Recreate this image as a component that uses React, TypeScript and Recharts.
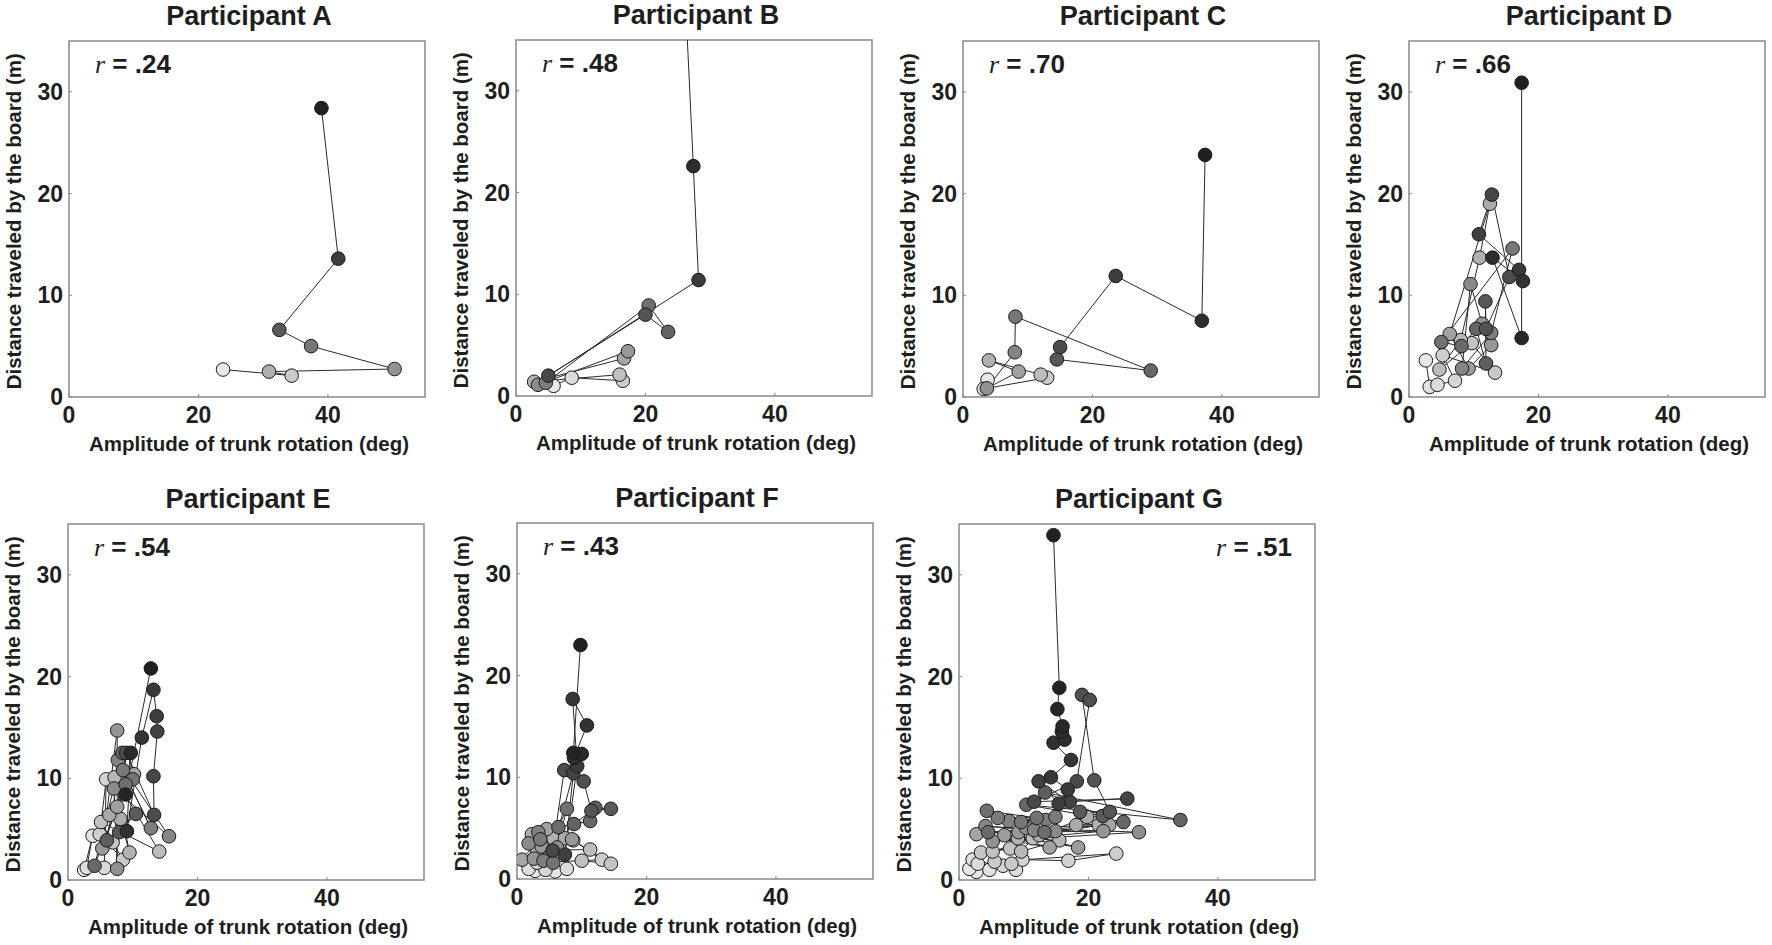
import { ScatterChart, Scatter, XAxis, YAxis, ReferenceArea } from "recharts";

// values, in trial order (light -> dark)
const aAmplitude = [23.8, 34.4, 30.9, 50.3, 37.4, 32.5, 41.6, 39.0];
const aDistance = [2.7, 2.1, 2.5, 2.75, 5.0, 6.6, 13.6, 28.4];

const bAmplitude = [5.8, 8.6, 16.5, 16.0, 2.8, 16.7, 17.3, 3.4, 4.6, 20.5, 23.5, 20.0, 5.0, 28.2, 27.4, 26.1];
const bDistance = [1.0, 1.8, 1.5, 2.1, 1.4, 3.7, 4.4, 1.1, 1.3, 8.9, 6.3, 8.0, 2.0, 11.4, 22.6, 40];

const cAmplitude = [3.8, 3.2, 13.0, 12.0, 4.0, 8.6, 3.7, 8.0, 8.1, 29.0, 14.5, 15.0, 23.6, 36.9, 37.4];
const cDistance = [1.7, 0.8, 1.9, 2.2, 3.6, 2.5, 0.85, 4.4, 7.9, 2.6, 3.7, 4.9, 11.9, 7.5, 23.8];

const dAmplitude = [
  2.6, 3.2, 4.4, 7.1, 5.2, 13.3, 9.7, 4.7, 8.0, 10.9, 12.5, 6.3, 9.2, 12.7, 11.3, 9.5, 8.2,
  12.7, 16.0, 5.0, 8.1, 10.4, 11.9, 11.8, 11.9, 15.5, 12.8, 10.8, 17.0, 17.6, 12.9, 17.4, 17.4,
];
const dDistance = [
  3.6, 1.0, 1.2, 1.6, 4.1, 2.4, 5.3, 2.7, 5.6, 13.7, 19.0, 6.2, 2.8, 5.1, 7.2, 11.1, 2.8,
  6.3, 14.6, 5.4, 5.0, 6.7, 3.3, 9.4, 6.7, 11.8, 19.9, 16.0, 12.5, 11.4, 13.7, 5.8, 30.9,
];

const eAmplitude = [
  2.5, 3.8, 2.9, 5.6, 5.9, 4.9, 8.5, 6.9, 5.1, 14.1, 7.2, 9.5, 8.1, 6.4, 10.2, 7.6, 5.3, 7.6, 7.6, 7.1, 15.6,
  7.7, 12.8, 8.5, 10.0, 8.9, 4.1, 8.4, 6.0, 10.5, 7.9, 9.0, 13.3, 13.2, 13.8, 13.7, 13.2, 11.4, 9.1, 9.7, 8.9, 12.8,
];
const eDistance = [
  1.0, 4.35, 1.2, 1.2, 9.9, 4.5, 2.0, 3.7, 5.7, 2.8, 10.1, 2.7, 6.0, 6.4, 10.4, 7.2, 3.1, 14.7, 1.1, 9.0, 4.3,
  11.8, 5.1, 10.8, 9.9, 9.4, 1.4, 12.5, 3.9, 6.5, 4.7, 12.5, 6.4, 10.2, 14.6, 16.1, 18.7, 14.0, 4.8, 12.5, 8.4, 20.8,
];

const fAmplitude = [
  2.8, 5.9, 1.8, 7.7, 4.4, 3.1, 13.1, 8.7, 14.5, 10.0, 11.3,
  3.1, 5.6, 2.3, 7.4, 0.8, 4.6, 3.8, 8.5, 2.6, 6.2, 1.8, 5.1, 3.3, 4.1, 3.6, 5.6, 7.7,
  6.4, 11.3, 8.8, 12.1, 14.5, 11.5, 10.3,
  7.3, 5.5, 8.7, 7.4, 9.3, 8.6, 10.8, 8.8, 10.0, 8.7, 9.8,
];
const fDistance = [
  0.8, 0.75, 1.0, 1.0, 0.9, 1.6, 1.9, 3.8, 1.5, 1.8, 2.9,
  2.8, 4.0, 4.4, 4.0, 1.9, 4.9, 3.2, 3.9, 2.0, 3.1, 3.5, 2.3, 4.6, 1.8, 3.9, 1.6, 6.9,
  5.1, 5.7, 5.4, 7.0, 6.9, 6.7, 9.6,
  10.7, 2.8, 10.4, 2.4, 11.1, 17.7, 15.1, 11.9, 12.3, 12.4, 23.0,
];

const gAmplitude = [
  2.7, 1.6, 4.7, 2.1, 8.8, 2.9, 6.8, 9.8, 16.9, 24.3, 5.5, 8.1,
  3.4, 7.9, 5.2, 11.4, 9.6, 15.5, 9.1, 21.6, 12.4, 19.8, 18.1, 23.2,
  2.7, 14.0, 7.0, 18.4, 9.2, 22.3, 5.2, 27.8, 10.4, 14.9, 4.1, 11.6, 7.7, 13.4, 6.0, 14.9, 9.6, 12.0,
  4.3, 13.2, 4.5, 25.4, 10.4, 34.2, 13.3, 22.2, 18.7, 23.3, 20.9, 19.0, 20.2, 18.2,
  11.6, 26.0, 17.1, 12.3, 15.4, 16.8, 14.2, 17.3, 14.6, 16.3, 15.9, 16.0,
  15.2, 15.5, 14.6,
];
const gDistance = [
  0.8, 1.1, 1.0, 2.0, 1.0, 1.6, 1.4, 2.0, 1.9, 2.6, 1.8, 1.6,
  2.7, 3.1, 2.8, 4.1, 2.8, 3.9, 4.1, 5.4, 4.4, 6.2, 5.4, 5.4,
  4.5, 3.2, 4.4, 3.2, 4.7, 4.8, 3.8, 4.7, 5.1, 4.8, 5.3, 4.9, 5.8, 5.9, 6.1, 6.2, 5.7, 6.1,
  6.8, 4.7, 4.7, 5.7, 7.4, 5.9, 8.6, 6.3, 6.7, 6.7, 9.8, 18.2, 17.7, 9.7,
  7.7, 8.0, 7.7, 9.7, 7.5, 8.9, 10.1, 11.8, 13.5, 13.8, 14.6, 15.1,
  16.8, 18.9, 33.9,
];

const participants = [
  { name: "Participant A", r: ".24", amp: aAmplitude, dist: aDistance },
  { name: "Participant B", r: ".48", amp: bAmplitude, dist: bDistance },
  { name: "Participant C", r: ".70", amp: cAmplitude, dist: cDistance },
  { name: "Participant D", r: ".66", amp: dAmplitude, dist: dDistance },
  { name: "Participant E", r: ".54", amp: eAmplitude, dist: eDistance },
  { name: "Participant F", r: ".43", amp: fAmplitude, dist: fDistance },
  { name: "Participant G", r: ".51", amp: gAmplitude, dist: gDistance },
];

const xTicks = [0, 20, 40];
const yTicks = [0, 10, 20, 30];

// layout: top-left corner of each plot box on the page
const boxes = [
  { left: 69, top: 41, rRight: false },
  { left: 516, top: 40, rRight: false },
  { left: 963, top: 41, rRight: false },
  { left: 1409, top: 41, rRight: false },
  { left: 68, top: 524, rRight: false },
  { left: 517, top: 523, rRight: false },
  { left: 959, top: 524, rRight: true },
];

const BOX = 356;
const PAD_L = 69;
const PAD_T = 41;
const INK = "#1e1e1e";
const SANS = "'Liberation Sans', Arial, sans-serif";

function grayAt(i: number, n: number) {
  const t = n > 1 ? i / (n - 1) : 1;
  const v = Math.round(232 - t * 200);
  return `rgb(${v},${v},${v})`;
}

function Dot(props: any) {
  const { cx, cy, payload } = props;
  if (cx == null || cy == null) return null;
  return <circle cx={cx} cy={cy} r={6.8} fill={payload.fill} stroke="#1a1a1a" strokeWidth={1} />;
}

function Panel({ p, box }: { p: (typeof participants)[number]; box: (typeof boxes)[number] }) {
  const data = p.amp.map((a, i) => ({ amp: a, dist: p.dist[i], fill: grayAt(i, p.amp.length) }));
  const tickStyle = { fill: INK, fontSize: 23, fontWeight: "bold", fontFamily: SANS };

  return (
    <div style={{ position: "absolute", left: box.left - PAD_L, top: box.top - PAD_T, width: 440, height: 470 }}>
      <ScatterChart width={440} height={440} margin={{ top: PAD_T, right: 440 - PAD_L - BOX, bottom: 0, left: 0 }}>
        <XAxis
          type="number"
          dataKey="amp"
          domain={[0, 55]}
          ticks={xTicks}
          allowDataOverflow
          height={440 - PAD_T - BOX}
          axisLine={false}
          tickSize={-3}
          tickMargin={13}
          tickLine={{ stroke: "#888" }}
          tick={tickStyle}
        />
        <YAxis
          type="number"
          dataKey="dist"
          domain={[0, 35]}
          ticks={yTicks}
          allowDataOverflow
          width={PAD_L}
          axisLine={false}
          tickSize={-3}
          tickMargin={9}
          tickLine={{ stroke: "#888" }}
          tick={tickStyle}
        />
        <ReferenceArea x1={0} x2={55} y1={0} y2={35} fill="none" stroke="#8a8a8a" strokeWidth={1.5} />
        <Scatter
          data={data}
          line={{ stroke: "#2a2a2a", strokeWidth: 1 }}
          lineType="joint"
          shape={Dot}
          isAnimationActive={false}
        />
      </ScatterChart>

      <div
        style={{
          position: "absolute", left: PAD_L + 2, top: PAD_T - 38, width: BOX, textAlign: "center",
          fontFamily: SANS, fontWeight: "bold", fontSize: 27, lineHeight: "27px", color: INK, whiteSpace: "nowrap",
        }}
      >
        {p.name}
      </div>

      <div
        style={{
          position: "absolute", left: box.rRight ? PAD_L : PAD_L + 26, top: PAD_T + 10,
          width: box.rRight ? BOX - 23 : undefined, textAlign: box.rRight ? "right" : "left",
          fontFamily: SANS, fontWeight: "bold", fontSize: 26, lineHeight: "26px", color: INK, whiteSpace: "nowrap",
        }}
      >
        <span style={{ fontFamily: "'Liberation Serif', serif", fontStyle: "italic", fontWeight: "normal" }}>r</span>
        {" = " + p.r}
      </div>

      <div
        style={{
          position: "absolute", left: PAD_L + 2, top: PAD_T + BOX + 37, width: BOX, textAlign: "center",
          fontFamily: SANS, fontWeight: "bold", fontSize: 20.5, lineHeight: "20.5px", color: INK, whiteSpace: "nowrap",
        }}
      >
        Amplitude of trunk rotation (deg)
      </div>

      <div
        style={{
          position: "absolute", left: 13.5 - BOX / 2, top: PAD_T + BOX / 2 + 2.5 - 10.25, width: BOX, height: 20.5,
          textAlign: "center", transform: "rotate(-90deg)", transformOrigin: "50% 50%",
          fontFamily: SANS, fontWeight: "bold", fontSize: 20.5, lineHeight: "20.5px", color: INK, whiteSpace: "nowrap",
        }}
      >
        Distance traveled by the board (m)
      </div>
    </div>
  );
}

export default function App() {
  return (
    <div style={{ position: "absolute", left: 0, top: 0, width: 1772, height: 945, background: "#fff", overflow: "hidden" }}>
      {participants.map((p, i) => (
        <Panel key={p.name} p={p} box={boxes[i]} />
      ))}
    </div>
  );
}
